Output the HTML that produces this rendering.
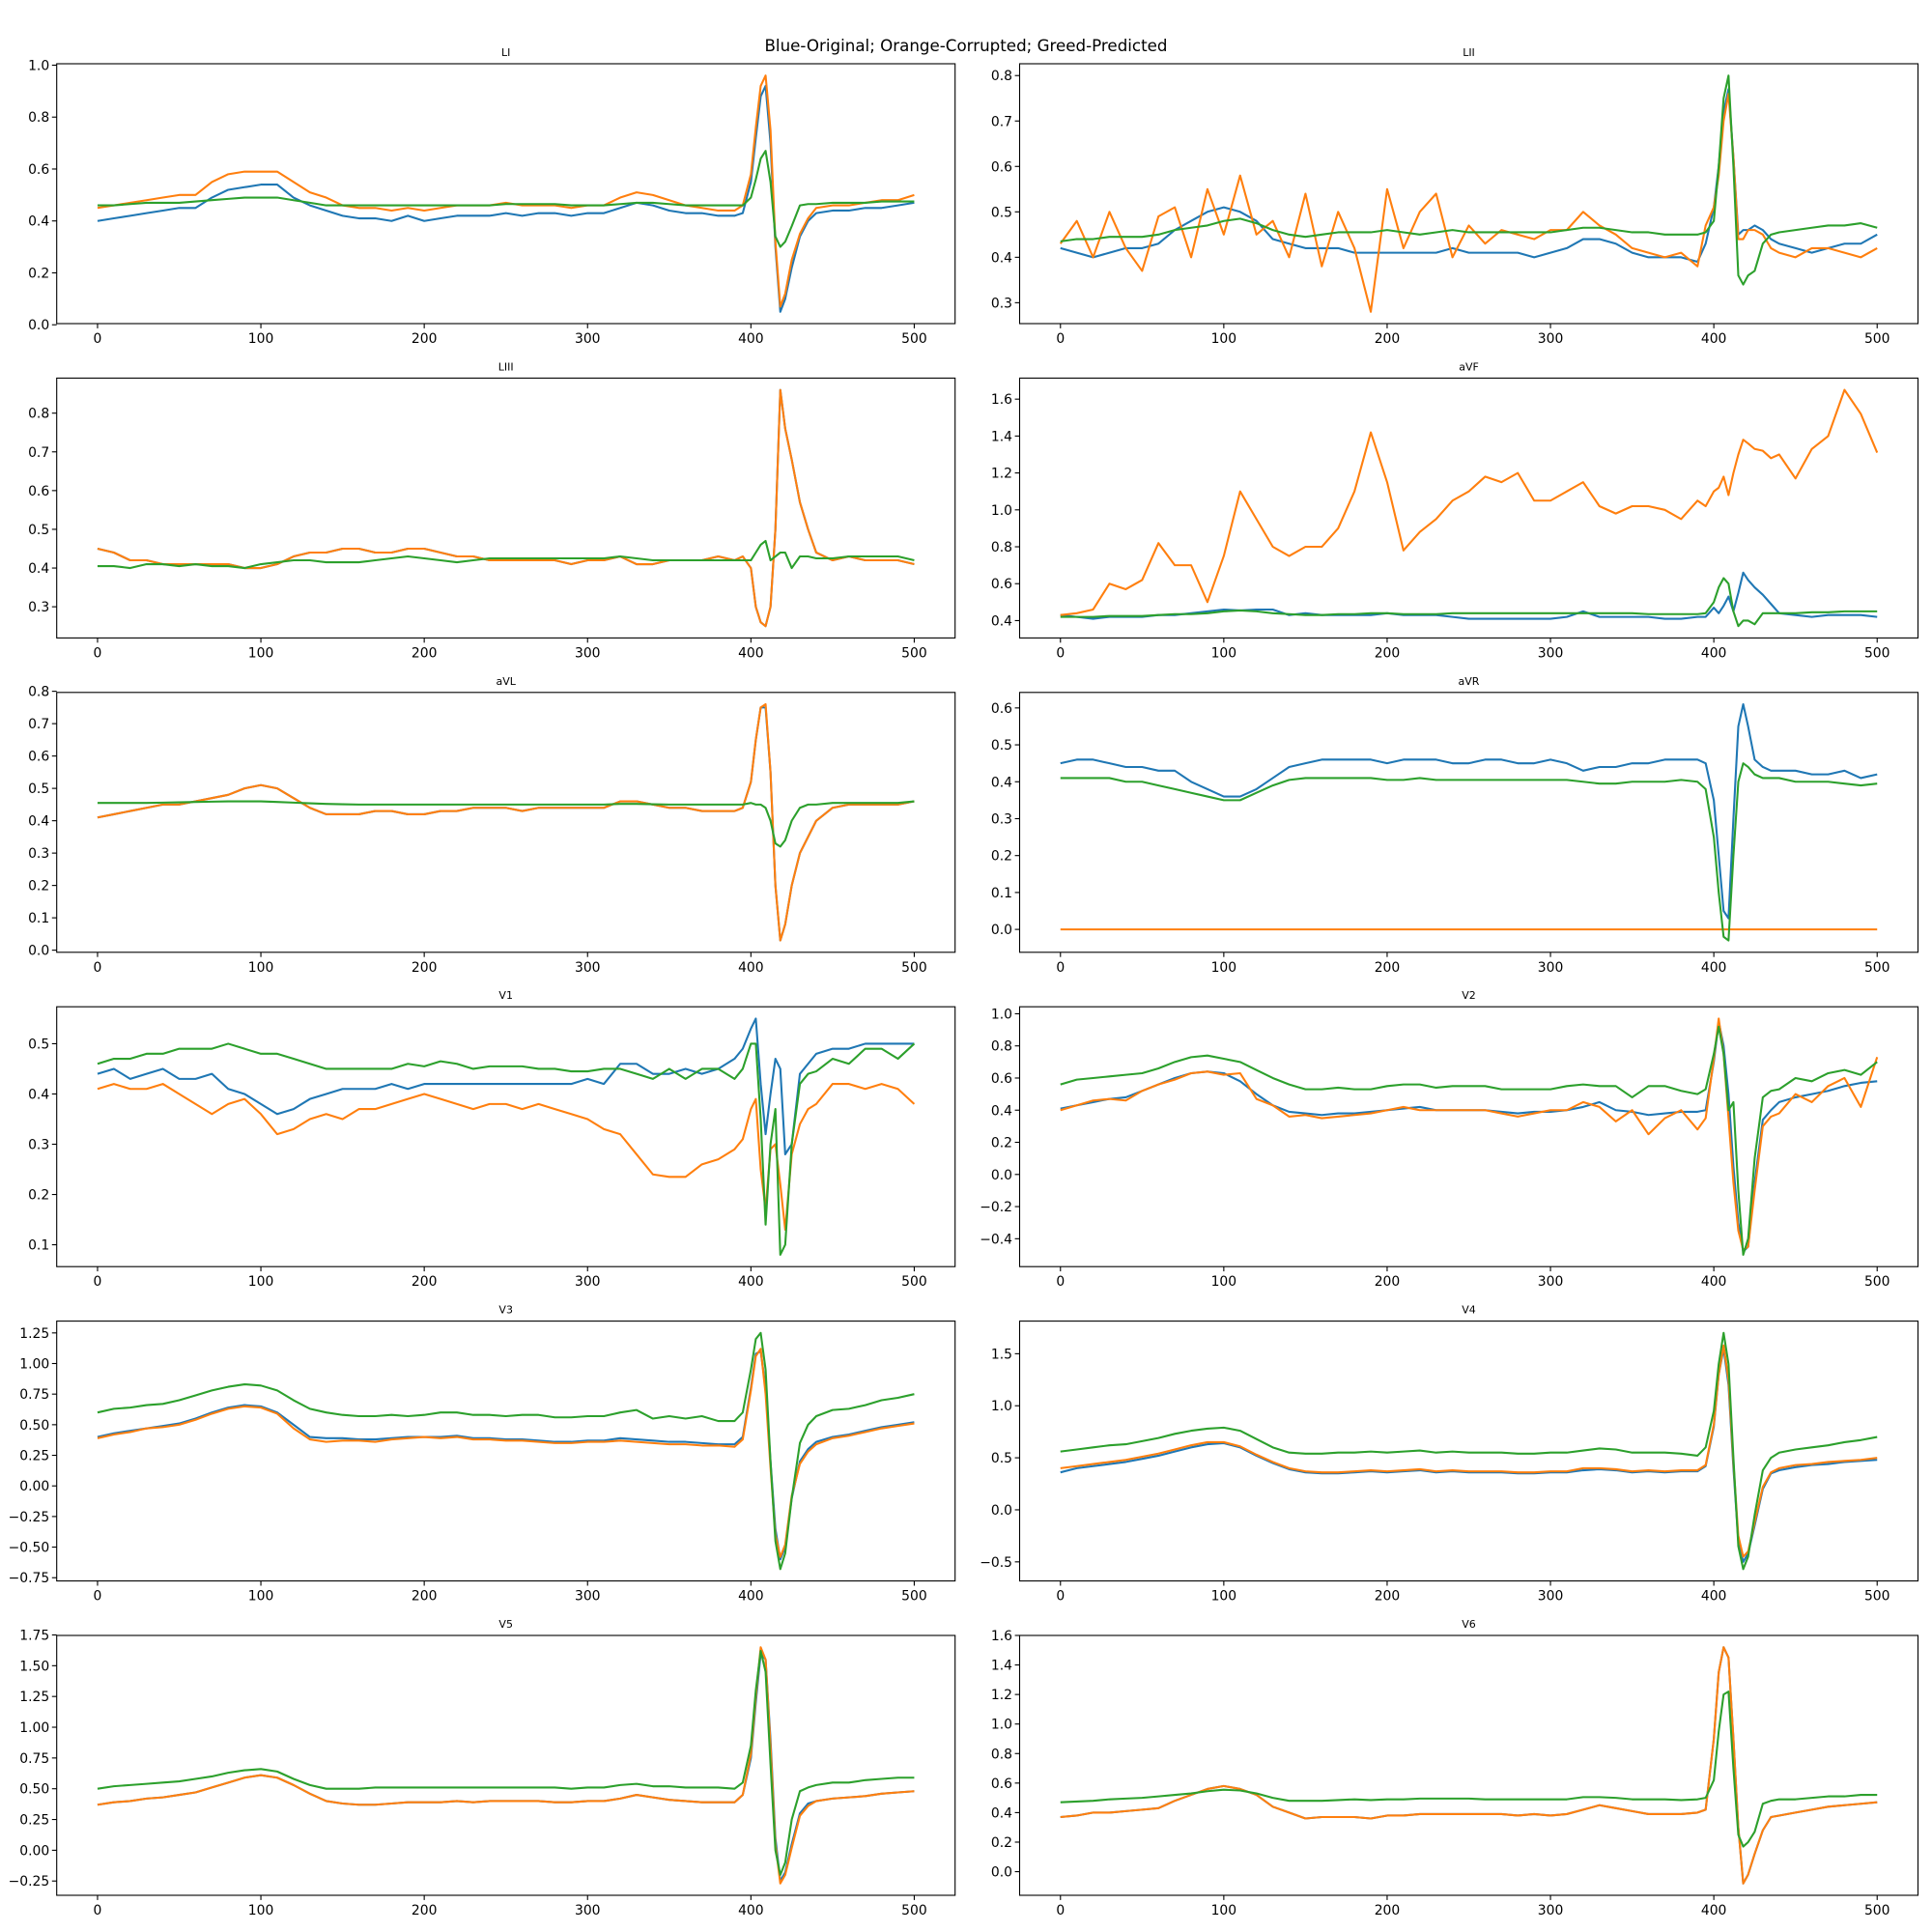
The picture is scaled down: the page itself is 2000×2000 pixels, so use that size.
<!DOCTYPE html>
<html><head><meta charset="utf-8">
<style>
html,body{margin:0;padding:0;background:#fff;}
svg{display:block;font-family:"DejaVu Sans","Liberation Sans",sans-serif;}
</style></head>
<body>
<svg id="fig" width="2000" height="2000" viewBox="0 0 2000 2000" xmlns="http://www.w3.org/2000/svg">
<rect x="0" y="0" width="2000" height="2000" fill="#fff"/>
<text x="1000" y="53" font-size="16.7" text-anchor="middle" fill="#000">Blue-Original; Orange-Corrupted; Greed-Predicted</text>
</svg>
<script>
const sampleX = [0,10,20,30,40,50,60,70,80,90,100,110,120,130,140,150,160,170,180,190,200,210,220,230,240,250,260,270,280,290,300,310,320,330,340,350,360,370,380,390,
395,400,403,406,409,412,415,418,421,425,430,435,
440,450,460,470,480,490,500];
const xTicks = [0,100,200,300,400,500];
const leadNames = ["LI","LII","LIII","aVF","aVL","aVR","V1","V2","V3","V4","V5","V6"];

const LI_blue = [0.40,0.41,0.42,0.43,0.44,0.45,0.45,0.49,0.52,0.53,0.54,0.54,0.49,0.46,0.44,0.42,0.41,0.41,0.40,0.42,0.40,0.41,0.42,0.42,0.42,0.43,0.42,0.43,0.43,0.42,0.43,0.43,0.45,0.47,0.46,0.44,0.43,0.43,0.42,0.42,
0.43,0.55,0.72,0.88,0.92,0.70,0.30,0.05,0.10,0.22,0.34,0.40, 0.43,0.44,0.44,0.45,0.45,0.46,0.47];
const LI_orange = [0.45,0.46,0.47,0.48,0.49,0.50,0.50,0.55,0.58,0.59,0.59,0.59,0.55,0.51,0.49,0.46,0.45,0.45,0.44,0.45,0.44,0.45,0.46,0.46,0.46,0.47,0.46,0.46,0.46,0.45,0.46,0.46,0.49,0.51,0.50,0.48,0.46,0.45,0.44,0.44,
0.46,0.58,0.76,0.92,0.96,0.75,0.32,0.07,0.12,0.25,0.35,0.41, 0.45,0.46,0.46,0.47,0.48,0.48,0.50];
const LI_green = [0.46,0.46,0.465,0.47,0.47,0.47,0.475,0.48,0.485,0.49,0.49,0.49,0.48,0.47,0.46,0.46,0.46,0.46,0.46,0.46,0.46,0.46,0.46,0.46,0.46,0.465,0.465,0.465,0.465,0.46,0.46,0.46,0.465,0.47,0.47,0.465,0.46,0.46,0.46,0.46,
0.46,0.49,0.56,0.64,0.67,0.55,0.34,0.30,0.32,0.38,0.46,0.465, 0.465,0.47,0.47,0.47,0.475,0.475,0.475];

const LII_blue = [0.42,0.41,0.40,0.41,0.42,0.42,0.43,0.46,0.48,0.50,0.51,0.50,0.48,0.44,0.43,0.42,0.42,0.42,0.41,0.41,0.41,0.41,0.41,0.41,0.42,0.41,0.41,0.41,0.41,0.40,0.41,0.42,0.44,0.44,0.43,0.41,0.40,0.40,0.40,0.39,
0.43,0.51,0.60,0.72,0.77,0.62,0.45,0.46,0.46,0.47,0.46,0.44, 0.43,0.42,0.41,0.42,0.43,0.43,0.45];
const LII_orange = [0.43,0.48,0.40,0.50,0.42,0.37,0.49,0.51,0.40,0.55,0.45,0.58,0.45,0.48,0.40,0.54,0.38,0.50,0.42,0.28,0.55,0.42,0.50,0.54,0.40,0.47,0.43,0.46,0.45,0.44,0.46,0.46,0.50,0.47,0.45,0.42,0.41,0.40,0.41,0.38,
0.47,0.51,0.58,0.70,0.76,0.62,0.44,0.44,0.46,0.46,0.45,0.42, 0.41,0.40,0.42,0.42,0.41,0.40,0.42];
const LII_green = [0.435,0.44,0.44,0.445,0.445,0.445,0.45,0.46,0.465,0.47,0.48,0.485,0.475,0.46,0.45,0.445,0.45,0.455,0.455,0.455,0.46,0.455,0.45,0.455,0.46,0.455,0.455,0.455,0.455,0.455,0.455,0.46,0.465,0.465,0.46,0.455,0.455,0.45,0.45,0.45,
0.455,0.48,0.60,0.75,0.80,0.60,0.36,0.34,0.36,0.37,0.43,0.45, 0.455,0.46,0.465,0.47,0.47,0.475,0.465];

const LIII_blue = [0.45,0.44,0.42,0.42,0.41,0.41,0.41,0.41,0.41,0.40,0.40,0.41,0.43,0.44,0.44,0.45,0.45,0.44,0.44,0.45,0.45,0.44,0.43,0.43,0.42,0.42,0.42,0.42,0.42,0.41,0.42,0.42,0.43,0.41,0.41,0.42,0.42,0.42,0.43,0.42,
0.43,0.40,0.30,0.26,0.25,0.30,0.50,0.86,0.76,0.68,0.57,0.50, 0.44,0.42,0.43,0.42,0.42,0.42,0.41];
const LIII_orange = [0.45,0.44,0.42,0.42,0.41,0.41,0.41,0.41,0.41,0.40,0.40,0.41,0.43,0.44,0.44,0.45,0.45,0.44,0.44,0.45,0.45,0.44,0.43,0.43,0.42,0.42,0.42,0.42,0.42,0.41,0.42,0.42,0.43,0.41,0.41,0.42,0.42,0.42,0.43,0.42,
0.43,0.40,0.30,0.26,0.25,0.30,0.50,0.86,0.76,0.68,0.57,0.50, 0.44,0.42,0.43,0.42,0.42,0.42,0.41];
const LIII_green = [0.405,0.405,0.40,0.41,0.41,0.405,0.41,0.405,0.405,0.40,0.41,0.415,0.42,0.42,0.415,0.415,0.415,0.42,0.425,0.43,0.425,0.42,0.415,0.42,0.425,0.425,0.425,0.425,0.425,0.425,0.425,0.425,0.43,0.425,0.42,0.42,0.42,0.42,0.42,0.42,
0.42,0.42,0.44,0.46,0.47,0.42,0.43,0.44,0.44,0.40,0.43,0.43, 0.425,0.425,0.43,0.43,0.43,0.43,0.42];

const aVF_blue = [0.43,0.42,0.41,0.42,0.42,0.42,0.43,0.43,0.44,0.45,0.46,0.455,0.46,0.46,0.43,0.44,0.43,0.43,0.43,0.43,0.44,0.43,0.43,0.43,0.42,0.41,0.41,0.41,0.41,0.41,0.41,0.42,0.45,0.42,0.42,0.42,0.42,0.41,0.41,0.42,
0.42,0.47,0.44,0.48,0.53,0.45,0.55,0.66,0.62,0.58,0.54,0.49, 0.44,0.43,0.42,0.43,0.43,0.43,0.42];
const aVF_orange = [0.43,0.44,0.46,0.60,0.57,0.62,0.82,0.70,0.70,0.50,0.75,1.10,0.95,0.80,0.75,0.80,0.80,0.90,1.10,1.42,1.15,0.78,0.88,0.95,1.05,1.10,1.18,1.15,1.20,1.05,1.05,1.10,1.15,1.02,0.98,1.02,1.02,1.00,0.95,1.05,
1.02,1.10,1.12,1.18,1.08,1.20,1.30,1.38,1.36,1.33,1.32,1.28, 1.30,1.17,1.33,1.40,1.65,1.52,1.31];
const aVF_green = [0.42,0.42,0.42,0.425,0.425,0.425,0.43,0.435,0.435,0.44,0.45,0.455,0.45,0.44,0.435,0.43,0.43,0.435,0.435,0.44,0.44,0.435,0.435,0.435,0.44,0.44,0.44,0.44,0.44,0.44,0.44,0.44,0.44,0.44,0.44,0.44,0.435,0.435,0.435,0.435,
0.44,0.50,0.58,0.63,0.60,0.45,0.37,0.40,0.40,0.38,0.44,0.44, 0.44,0.44,0.445,0.445,0.45,0.45,0.45];

const aVL_blue = [0.41,0.42,0.43,0.44,0.45,0.45,0.46,0.47,0.48,0.50,0.51,0.50,0.47,0.44,0.42,0.42,0.42,0.43,0.43,0.42,0.42,0.43,0.43,0.44,0.44,0.44,0.43,0.44,0.44,0.44,0.44,0.44,0.46,0.46,0.45,0.44,0.44,0.43,0.43,0.43,
0.44,0.52,0.65,0.75,0.75,0.55,0.20,0.03,0.08,0.20,0.30,0.35, 0.40,0.44,0.45,0.45,0.45,0.45,0.46];
const aVL_orange = [0.41,0.42,0.43,0.44,0.45,0.45,0.46,0.47,0.48,0.50,0.51,0.50,0.47,0.44,0.42,0.42,0.42,0.43,0.43,0.42,0.42,0.43,0.43,0.44,0.44,0.44,0.43,0.44,0.44,0.44,0.44,0.44,0.46,0.46,0.45,0.44,0.44,0.43,0.43,0.43,
0.44,0.52,0.65,0.75,0.76,0.55,0.20,0.03,0.08,0.20,0.30,0.35, 0.40,0.44,0.45,0.45,0.45,0.45,0.46];
const aVL_green = [0.455,0.455,0.455,0.455,0.456,0.457,0.458,0.459,0.46,0.46,0.46,0.458,0.456,0.454,0.452,0.451,0.45,0.45,0.45,0.45,0.45,0.45,0.45,0.45,0.45,0.45,0.45,0.45,0.45,0.45,0.45,0.45,0.452,0.452,0.451,0.45,0.45,0.45,0.45,0.45,
0.45,0.455,0.45,0.45,0.44,0.40,0.33,0.32,0.34,0.40,0.44,0.45, 0.45,0.455,0.455,0.455,0.455,0.455,0.46];

const aVR_blue = [0.45,0.46,0.46,0.45,0.44,0.44,0.43,0.43,0.40,0.38,0.36,0.36,0.38,0.41,0.44,0.45,0.46,0.46,0.46,0.46,0.45,0.46,0.46,0.46,0.45,0.45,0.46,0.46,0.45,0.45,0.46,0.45,0.43,0.44,0.44,0.45,0.45,0.46,0.46,0.46,
0.45,0.35,0.20,0.05,0.03,0.30,0.55,0.61,0.55,0.46,0.44,0.43, 0.43,0.43,0.42,0.42,0.43,0.41,0.42];
const aVR_orange = [0,0,0,0,0,0,0,0,0,0,0,0,0,0,0,0,0,0,0,0,0,0,0,0,0,0,0,0,0,0,0,0,0,0,0,0,0,0,0,0,
0,0,0,0,0,0,0,0,0,0,0,0, 0,0,0,0,0,0,0];
const aVR_green = [0.41,0.41,0.41,0.41,0.40,0.40,0.39,0.38,0.37,0.36,0.35,0.35,0.37,0.39,0.405,0.41,0.41,0.41,0.41,0.41,0.405,0.405,0.41,0.405,0.405,0.405,0.405,0.405,0.405,0.405,0.405,0.405,0.40,0.395,0.395,0.40,0.40,0.40,0.405,0.40,
0.38,0.25,0.10,-0.02,-0.03,0.20,0.40,0.45,0.44,0.42,0.41,0.41, 0.41,0.40,0.40,0.40,0.395,0.39,0.395];

const V1_blue = [0.44,0.45,0.43,0.44,0.45,0.43,0.43,0.44,0.41,0.40,0.38,0.36,0.37,0.39,0.40,0.41,0.41,0.41,0.42,0.41,0.42,0.42,0.42,0.42,0.42,0.42,0.42,0.42,0.42,0.42,0.43,0.42,0.46,0.46,0.44,0.44,0.45,0.44,0.45,0.47,
0.49,0.53,0.55,0.42,0.32,0.40,0.47,0.45,0.28,0.30,0.44,0.46, 0.48,0.49,0.49,0.50,0.50,0.50,0.50];
const V1_orange = [0.41,0.42,0.41,0.41,0.42,0.40,0.38,0.36,0.38,0.39,0.36,0.32,0.33,0.35,0.36,0.35,0.37,0.37,0.38,0.39,0.40,0.39,0.38,0.37,0.38,0.38,0.37,0.38,0.37,0.36,0.35,0.33,0.32,0.28,0.24,0.235,0.235,0.26,0.27,0.29,
0.31,0.37,0.39,0.25,0.17,0.29,0.30,0.22,0.13,0.28,0.34,0.37, 0.38,0.42,0.42,0.41,0.42,0.41,0.38];
const V1_green = [0.46,0.47,0.47,0.48,0.48,0.49,0.49,0.49,0.50,0.49,0.48,0.48,0.47,0.46,0.45,0.45,0.45,0.45,0.45,0.46,0.455,0.465,0.46,0.45,0.455,0.455,0.455,0.45,0.45,0.445,0.445,0.45,0.45,0.44,0.43,0.45,0.43,0.45,0.45,0.43,
0.45,0.50,0.50,0.35,0.14,0.30,0.37,0.08,0.10,0.30,0.42,0.44, 0.445,0.47,0.46,0.49,0.49,0.47,0.50];

const V2_blue = [0.41,0.43,0.45,0.47,0.48,0.52,0.56,0.60,0.63,0.64,0.63,0.58,0.50,0.43,0.39,0.38,0.37,0.38,0.38,0.39,0.40,0.41,0.42,0.40,0.40,0.40,0.40,0.39,0.38,0.39,0.39,0.40,0.42,0.45,0.40,0.39,0.37,0.38,0.39,0.39,
0.40,0.70,0.95,0.80,0.50,0.05,-0.30,-0.48,-0.45,-0.05,0.34,0.40, 0.45,0.48,0.50,0.52,0.55,0.57,0.58];
const V2_orange = [0.40,0.43,0.46,0.47,0.46,0.52,0.56,0.59,0.63,0.64,0.62,0.63,0.47,0.43,0.36,0.37,0.35,0.36,0.37,0.38,0.40,0.42,0.40,0.40,0.40,0.40,0.40,0.38,0.36,0.38,0.40,0.40,0.45,0.42,0.33,0.40,0.25,0.35,0.40,0.28,
0.35,0.72,0.97,0.75,0.35,-0.05,-0.35,-0.47,-0.45,-0.10,0.30,0.36, 0.38,0.50,0.45,0.55,0.60,0.42,0.73];
const V2_green = [0.56,0.59,0.60,0.61,0.62,0.63,0.66,0.70,0.73,0.74,0.72,0.70,0.65,0.60,0.56,0.53,0.53,0.54,0.53,0.53,0.55,0.56,0.56,0.54,0.55,0.55,0.55,0.53,0.53,0.53,0.53,0.55,0.56,0.55,0.55,0.48,0.55,0.55,0.52,0.50,
0.53,0.75,0.92,0.75,0.40,0.45,-0.10,-0.50,-0.40,0.10,0.48,0.52, 0.53,0.60,0.58,0.63,0.65,0.62,0.70];

const V3_blue = [0.40,0.43,0.45,0.47,0.49,0.51,0.55,0.60,0.64,0.66,0.65,0.60,0.50,0.40,0.39,0.39,0.38,0.38,0.39,0.40,0.40,0.40,0.41,0.39,0.39,0.38,0.38,0.37,0.36,0.36,0.37,0.37,0.39,0.38,0.37,0.36,0.36,0.35,0.34,0.34,
0.40,0.80,1.08,1.10,0.80,0.20,-0.35,-0.60,-0.50,-0.10,0.20,0.30, 0.36,0.40,0.42,0.45,0.48,0.50,0.52];
const V3_orange = [0.39,0.42,0.44,0.47,0.48,0.50,0.54,0.59,0.63,0.65,0.64,0.59,0.47,0.38,0.36,0.37,0.37,0.36,0.38,0.39,0.40,0.39,0.40,0.38,0.38,0.37,0.37,0.36,0.35,0.35,0.36,0.36,0.37,0.36,0.35,0.34,0.34,0.33,0.33,0.32,
0.38,0.78,1.06,1.12,0.75,0.15,-0.40,-0.58,-0.48,-0.08,0.18,0.28, 0.34,0.39,0.41,0.44,0.47,0.49,0.51];
const V3_green = [0.60,0.63,0.64,0.66,0.67,0.70,0.74,0.78,0.81,0.83,0.82,0.78,0.70,0.63,0.60,0.58,0.57,0.57,0.58,0.57,0.58,0.60,0.60,0.58,0.58,0.57,0.58,0.58,0.56,0.56,0.57,0.57,0.60,0.62,0.55,0.57,0.55,0.57,0.53,0.53,
0.60,0.95,1.20,1.25,0.95,0.20,-0.45,-0.68,-0.55,-0.10,0.35,0.50, 0.57,0.62,0.63,0.66,0.70,0.72,0.75];

const V4_blue = [0.36,0.40,0.42,0.44,0.46,0.49,0.52,0.56,0.60,0.63,0.64,0.60,0.52,0.45,0.39,0.36,0.35,0.35,0.36,0.37,0.36,0.37,0.38,0.36,0.37,0.36,0.36,0.36,0.35,0.35,0.36,0.36,0.38,0.39,0.38,0.36,0.37,0.36,0.37,0.37,
0.42,0.80,1.30,1.55,1.20,0.40,-0.30,-0.50,-0.42,-0.15,0.20,0.35, 0.38,0.41,0.43,0.44,0.46,0.47,0.48];
const V4_orange = [0.40,0.42,0.44,0.46,0.48,0.51,0.54,0.58,0.62,0.65,0.65,0.61,0.53,0.46,0.40,0.37,0.36,0.36,0.37,0.38,0.37,0.38,0.39,0.37,0.38,0.37,0.37,0.37,0.36,0.36,0.37,0.37,0.40,0.40,0.39,0.37,0.38,0.37,0.38,0.38,
0.43,0.82,1.30,1.58,1.25,0.45,-0.25,-0.45,-0.40,-0.12,0.22,0.36, 0.40,0.43,0.44,0.46,0.47,0.48,0.50];
const V4_green = [0.56,0.58,0.60,0.62,0.63,0.66,0.69,0.73,0.76,0.78,0.79,0.76,0.68,0.60,0.55,0.54,0.54,0.55,0.55,0.56,0.55,0.56,0.57,0.55,0.56,0.55,0.55,0.55,0.54,0.54,0.55,0.55,0.57,0.59,0.58,0.55,0.55,0.55,0.54,0.52,
0.60,0.95,1.40,1.70,1.40,0.50,-0.35,-0.57,-0.45,-0.05,0.38,0.50, 0.55,0.58,0.60,0.62,0.65,0.67,0.70];

const V5_blue = [0.37,0.39,0.40,0.42,0.43,0.45,0.47,0.51,0.55,0.59,0.61,0.59,0.53,0.46,0.40,0.38,0.37,0.37,0.38,0.39,0.39,0.39,0.40,0.39,0.40,0.40,0.40,0.40,0.39,0.39,0.40,0.40,0.42,0.45,0.43,0.41,0.40,0.39,0.39,0.39,
0.45,0.75,1.20,1.60,1.55,0.90,0.10,-0.25,-0.18,0.05,0.30,0.38, 0.40,0.42,0.43,0.44,0.46,0.47,0.48];
const V5_orange = [0.37,0.39,0.40,0.42,0.43,0.45,0.47,0.51,0.55,0.59,0.61,0.59,0.53,0.46,0.40,0.38,0.37,0.37,0.38,0.39,0.39,0.39,0.40,0.39,0.40,0.40,0.40,0.40,0.39,0.39,0.40,0.40,0.42,0.45,0.43,0.41,0.40,0.39,0.39,0.39,
0.45,0.78,1.25,1.65,1.55,0.85,0.05,-0.27,-0.20,0.02,0.28,0.36, 0.40,0.42,0.43,0.44,0.46,0.47,0.48];
const V5_green = [0.50,0.52,0.53,0.54,0.55,0.56,0.58,0.60,0.63,0.65,0.66,0.64,0.58,0.53,0.50,0.50,0.50,0.51,0.51,0.51,0.51,0.51,0.51,0.51,0.51,0.51,0.51,0.51,0.51,0.50,0.51,0.51,0.53,0.54,0.52,0.52,0.51,0.51,0.51,0.50,
0.55,0.85,1.30,1.62,1.45,0.70,0.00,-0.20,-0.10,0.25,0.48,0.51, 0.53,0.55,0.55,0.57,0.58,0.59,0.59];

const V6_blue = [0.37,0.38,0.40,0.40,0.41,0.42,0.43,0.48,0.52,0.56,0.58,0.56,0.52,0.44,0.40,0.36,0.37,0.37,0.37,0.36,0.38,0.38,0.39,0.39,0.39,0.39,0.39,0.39,0.38,0.39,0.38,0.39,0.42,0.45,0.43,0.41,0.39,0.39,0.39,0.40,
0.42,0.90,1.35,1.52,1.45,0.90,0.30,-0.08,-0.02,0.12,0.28,0.37, 0.38,0.40,0.42,0.44,0.45,0.46,0.47];
const V6_orange = [0.37,0.38,0.40,0.40,0.41,0.42,0.43,0.48,0.52,0.56,0.58,0.56,0.52,0.44,0.40,0.36,0.37,0.37,0.37,0.36,0.38,0.38,0.39,0.39,0.39,0.39,0.39,0.39,0.38,0.39,0.38,0.39,0.42,0.45,0.43,0.41,0.39,0.39,0.39,0.40,
0.42,0.90,1.35,1.52,1.45,0.90,0.30,-0.08,-0.02,0.12,0.28,0.37, 0.38,0.40,0.42,0.44,0.45,0.46,0.47];
const V6_green = [0.47,0.475,0.48,0.49,0.495,0.50,0.51,0.52,0.53,0.545,0.555,0.55,0.53,0.50,0.48,0.48,0.48,0.485,0.49,0.485,0.49,0.49,0.495,0.495,0.495,0.495,0.49,0.49,0.49,0.49,0.49,0.49,0.505,0.505,0.50,0.49,0.49,0.49,0.485,0.49,
0.50,0.62,0.95,1.20,1.22,0.70,0.25,0.17,0.20,0.27,0.46,0.48, 0.49,0.49,0.50,0.51,0.51,0.52,0.52];

const LI_yTicks = [0.0,0.2,0.4,0.6,0.8,1.0];
const LII_yTicks = [0.3,0.4,0.5,0.6,0.7,0.8];
const LIII_yTicks = [0.3,0.4,0.5,0.6,0.7,0.8];
const aVF_yTicks = [0.4,0.6,0.8,1.0,1.2,1.4,1.6];
const aVL_yTicks = [0.0,0.1,0.2,0.3,0.4,0.5,0.6,0.7,0.8];
const aVR_yTicks = [0.0,0.1,0.2,0.3,0.4,0.5,0.6];
const V1_yTicks = [0.1,0.2,0.3,0.4,0.5];
const V2_yTicks = [-0.4,-0.2,0.0,0.2,0.4,0.6,0.8,1.0];
const V3_yTicks = [-0.75,-0.5,-0.25,0.0,0.25,0.5,0.75,1.0,1.25];
const V4_yTicks = [-0.5,0.0,0.5,1.0,1.5];
const V5_yTicks = [-0.25,0.0,0.25,0.5,0.75,1.0,1.25,1.5,1.75];
const V6_yTicks = [0.0,0.2,0.4,0.6,0.8,1.0,1.2,1.4,1.6];
const LI_yTickLabels = ["0.0","0.2","0.4","0.6","0.8","1.0"];
const LII_yTickLabels = ["0.3","0.4","0.5","0.6","0.7","0.8"];
const LIII_yTickLabels = ["0.3","0.4","0.5","0.6","0.7","0.8"];
const aVF_yTickLabels = ["0.4","0.6","0.8","1.0","1.2","1.4","1.6"];
const aVL_yTickLabels = ["0.0","0.1","0.2","0.3","0.4","0.5","0.6","0.7","0.8"];
const aVR_yTickLabels = ["0.0","0.1","0.2","0.3","0.4","0.5","0.6"];
const V1_yTickLabels = ["0.1","0.2","0.3","0.4","0.5"];
const V2_yTickLabels = ["\u22120.4","\u22120.2","0.0","0.2","0.4","0.6","0.8","1.0"];
const V3_yTickLabels = ["\u22120.75","\u22120.50","\u22120.25","0.00","0.25","0.50","0.75","1.00","1.25"];
const V4_yTickLabels = ["\u22120.5","0.0","0.5","1.0","1.5"];
const V5_yTickLabels = ["\u22120.25","0.00","0.25","0.50","0.75","1.00","1.25","1.50","1.75"];
const V6_yTickLabels = ["0.0","0.2","0.4","0.6","0.8","1.0","1.2","1.4","1.6"];

const leads = [
 [LI_blue,LI_orange,LI_green,LI_yTicks,LI_yTickLabels],
 [LII_blue,LII_orange,LII_green,LII_yTicks,LII_yTickLabels],
 [LIII_blue,LIII_orange,LIII_green,LIII_yTicks,LIII_yTickLabels],
 [aVF_blue,aVF_orange,aVF_green,aVF_yTicks,aVF_yTickLabels],
 [aVL_blue,aVL_orange,aVL_green,aVL_yTicks,aVL_yTickLabels],
 [aVR_blue,aVR_orange,aVR_green,aVR_yTicks,aVR_yTickLabels],
 [V1_blue,V1_orange,V1_green,V1_yTicks,V1_yTickLabels],
 [V2_blue,V2_orange,V2_green,V2_yTicks,V2_yTickLabels],
 [V3_blue,V3_orange,V3_green,V3_yTicks,V3_yTickLabels],
 [V4_blue,V4_orange,V4_green,V4_yTicks,V4_yTickLabels],
 [V5_blue,V5_orange,V5_green,V5_yTicks,V5_yTickLabels],
 [V6_blue,V6_orange,V6_green,V6_yTicks,V6_yTickLabels]
];

const NS = "http://www.w3.org/2000/svg";
const svg = document.getElementById("fig");
const colors = ["#1f77b4","#ff7f0e","#2ca02c"];
const seriesNames = ["original","corrupted","predicted"];
const AX_W = 930, AX_H = 269, ROW_PITCH = 325.4;
const colLeft = [58.7, 1055.5];

function mk(tag, attrs, parent){
  const e = document.createElementNS(NS, tag);
  for (const k in attrs) e.setAttribute(k, attrs[k]);
  parent.appendChild(e);
  return e;
}

leads.forEach((ld, i) => {
  const name = leadNames[i];
  const key = name.toLowerCase();
  const col = i % 2, row = Math.floor(i / 2);
  const L = colLeft[col], T = 66 + row * ROW_PITCH;
  const g = mk("g", {}, svg);
  
  

  const all = ld[0].concat(ld[1], ld[2]);
  let mn = Math.min(...all), mx = Math.max(...all);
  const pad = (mx - mn) * 0.05 || 0.05;
  const y0 = mn - pad, y1 = mx + pad;
  const x0 = -25, x1 = 525;
  const sx = v => L + (v - x0) / (x1 - x0) * AX_W;
  const sy = v => T + AX_H - (v - y0) / (y1 - y0) * AX_H;

  const clipId = "clip" + i;
  const cp = mk("clipPath", {id: clipId}, g);
  mk("rect", {x: L, y: T, width: AX_W, height: AX_H}, cp);

  for (let s = 0; s < 3; s++) {
    const pts = sampleX.map((x, k) => sx(x).toFixed(2) + "," + sy(ld[s][k]).toFixed(2)).join(" ");
    const pl = mk("polyline", {points: pts, fill: "none", stroke: colors[s], "stroke-width": 2.08, "stroke-linejoin": "round", "clip-path": "url(#" + clipId + ")"}, g);
    
    
  }

  const frame = mk("rect", {x: L, y: T, width: AX_W, height: AX_H, fill: "none", stroke: "#000", "stroke-width": 1.1}, g);
  
  

  const title = mk("text", {x: L + AX_W / 2, y: T - 8, "font-size": 11, "text-anchor": "middle", fill: "#000"}, g);
  title.textContent = name;
  
  

  xTicks.forEach(v => {
    const x = sx(v);
    mk("line", {x1: x, y1: T + AX_H, x2: x, y2: T + AX_H + 4.9, stroke: "#000", "stroke-width": 1.1}, g);
    const t = mk("text", {x: x, y: T + AX_H + 20, "font-size": 13.9, "text-anchor": "middle", fill: "#000"}, g);
    t.textContent = String(v);
    
    
  });
  ld[3].forEach((v, k) => {
    const y = sy(v);
    mk("line", {x1: L - 4.9, y1: y, x2: L, y2: y, stroke: "#000", "stroke-width": 1.1}, g);
    const t = mk("text", {x: L - 7.5, y: y + 5, "font-size": 13.9, "text-anchor": "end", fill: "#000"}, g);
    t.textContent = ld[4][k];
    
    
  });
});
</script>
</body></html>
